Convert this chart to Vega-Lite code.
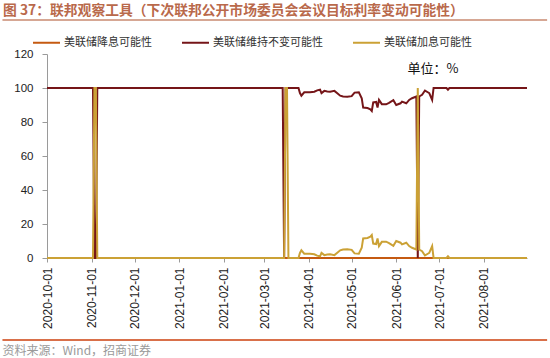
{
  "$schema": "https://vega.github.io/schema/vega-lite/v6.json",
  "width": 480,
  "height": 204,
  "autosize": {"type": "none"},
  "padding": {"left": 47, "top": 54, "right": 23, "bottom": 100},
  "background": "white",
  "title": {
    "text": "图 37：联邦观察工具（下次联邦公开市场委员会会议目标利率变动可能性）",
    "anchor": "start",
    "frame": "group",
    "dx": -44,
    "offset": 3,
    "dy": 2,
    "font": "Noto Sans CJK SC",
    "fontSize": 13.8,
    "fontWeight": "bold",
    "color": "#B9694B"
  },
  "config": {
    "view": {"stroke": null},
    "axis": {
      "domainColor": "#9A9A9A",
      "tickColor": "#9A9A9A",
      "labelColor": "#222222",
      "labelFont": "Liberation Sans",
      "grid": false
    }
  },
  "layer": [
    {
      "data": {
        "values": [
          {"date": "2020-10-01", "美联储降息可能性": 0, "美联储维持不变可能性": 100, "美联储加息可能性": 0},
          {"date": "2020-11-02", "美联储降息可能性": 0, "美联储维持不变可能性": 100, "美联储加息可能性": 0},
          {"date": "2020-11-03", "美联储降息可能性": 0, "美联储维持不变可能性": 0, "美联储加息可能性": 100},
          {"date": "2020-11-04", "美联储降息可能性": 0, "美联储维持不变可能性": 0, "美联储加息可能性": 100},
          {"date": "2020-11-05", "美联储降息可能性": 0, "美联储维持不变可能性": 100, "美联储加息可能性": 0},
          {"date": "2021-03-14", "美联储降息可能性": 0, "美联储维持不变可能性": 100, "美联储加息可能性": 0},
          {"date": "2021-03-15", "美联储降息可能性": 0, "美联储维持不变可能性": 0, "美联储加息可能性": 0},
          {"date": "2021-03-16", "美联储降息可能性": 0, "美联储维持不变可能性": 100, "美联储加息可能性": 100},
          {"date": "2021-03-17", "美联储降息可能性": 0, "美联储维持不变可能性": 100, "美联储加息可能性": 100},
          {"date": "2021-03-18", "美联储降息可能性": 0, "美联储维持不变可能性": 100, "美联储加息可能性": 0},
          {"date": "2021-03-25", "美联储降息可能性": 0, "美联储维持不变可能性": 100, "美联储加息可能性": 0},
          {"date": "2021-03-26", "美联储降息可能性": 0, "美联储维持不变可能性": 97, "美联储加息可能性": 3},
          {"date": "2021-03-27", "美联储降息可能性": 0, "美联储维持不变可能性": 95.5, "美联储加息可能性": 4.5},
          {"date": "2021-03-29", "美联储降息可能性": 0, "美联储维持不变可能性": 97.5, "美联储加息可能性": 2.5},
          {"date": "2021-04-02", "美联储降息可能性": 0, "美联储维持不变可能性": 97.5, "美联储加息可能性": 2.5},
          {"date": "2021-04-05", "美联储降息可能性": 0, "美联储维持不变可能性": 97.8, "美联储加息可能性": 2.2},
          {"date": "2021-04-07", "美联储降息可能性": 0, "美联储维持不变可能性": 98.6, "美联储加息可能性": 1.4},
          {"date": "2021-04-09", "美联储降息可能性": 0, "美联储维持不变可能性": 99, "美联储加息可能性": 1},
          {"date": "2021-04-10", "美联储降息可能性": 0, "美联储维持不变可能性": 97, "美联储加息可能性": 3},
          {"date": "2021-04-12", "美联储降息可能性": 0, "美联储维持不变可能性": 98.3, "美联储加息可能性": 1.7},
          {"date": "2021-04-14", "美联储降息可能性": 0, "美联储维持不变可能性": 98, "美联储加息可能性": 2},
          {"date": "2021-04-16", "美联储降息可能性": 0, "美联储维持不变可能性": 97.8, "美联储加息可能性": 2.2},
          {"date": "2021-04-19", "美联储降息可能性": 0, "美联储维持不变可能性": 98.3, "美联储加息可能性": 1.7},
          {"date": "2021-04-21", "美联储降息可能性": 0, "美联储维持不变可能性": 96.9, "美联储加息可能性": 3.1},
          {"date": "2021-04-23", "美联储降息可能性": 0, "美联储维持不变可能性": 95.5, "美联储加息可能性": 4.5},
          {"date": "2021-04-25", "美联储降息可能性": 0, "美联储维持不变可能性": 95, "美联储加息可能性": 5},
          {"date": "2021-04-28", "美联储降息可能性": 0, "美联储维持不变可能性": 94.8, "美联储加息可能性": 5.2},
          {"date": "2021-05-01", "美联储降息可能性": 0, "美联储维持不变可能性": 95.2, "美联储加息可能性": 4.8},
          {"date": "2021-05-03", "美联储降息可能性": 0, "美联储维持不变可能性": 97.3, "美联储加息可能性": 2.7},
          {"date": "2021-05-06", "美联储降息可能性": 0, "美联储维持不变可能性": 97.5, "美联储加息可能性": 2.5},
          {"date": "2021-05-08", "美联储降息可能性": 0, "美联储维持不变可能性": 94, "美联储加息可能性": 6},
          {"date": "2021-05-09", "美联储降息可能性": 0, "美联储维持不变可能性": 88.5, "美联储加息可能性": 11.5},
          {"date": "2021-05-12", "美联储降息可能性": 0, "美联储维持不变可能性": 88.2, "美联储加息可能性": 11.8},
          {"date": "2021-05-14", "美联储降息可能性": 0, "美联储维持不变可能性": 87.5, "美联储加息可能性": 12.5},
          {"date": "2021-05-15", "美联储降息可能性": 0, "美联储维持不变可能性": 86.5, "美联储加息可能性": 13.5},
          {"date": "2021-05-16", "美联储降息可能性": 0, "美联储维持不变可能性": 91.5, "美联储加息可能性": 8.5},
          {"date": "2021-05-18", "美联储降息可能性": 0, "美联储维持不变可能性": 91.8, "美联储加息可能性": 8.2},
          {"date": "2021-05-19", "美联储降息可能性": 0, "美联储维持不变可能性": 88.5, "美联储加息可能性": 11.5},
          {"date": "2021-05-20", "美联储降息可能性": 0, "美联储维持不变可能性": 93, "美联储加息可能性": 7},
          {"date": "2021-05-22", "美联储降息可能性": 0, "美联储维持不变可能性": 90.5, "美联储加息可能性": 9.5},
          {"date": "2021-05-25", "美联储降息可能性": 0, "美联储维持不变可能性": 90.4, "美联储加息可能性": 9.6},
          {"date": "2021-05-27", "美联储降息可能性": 0, "美联储维持不变可能性": 91.2, "美联储加息可能性": 8.8},
          {"date": "2021-05-30", "美联储降息可能性": 0, "美联储维持不变可能性": 92.8, "美联储加息可能性": 7.2},
          {"date": "2021-06-01", "美联储降息可能性": 0, "美联储维持不变可能性": 90, "美联储加息可能性": 10},
          {"date": "2021-06-04", "美联储降息可能性": 0, "美联储维持不变可能性": 91, "美联储加息可能性": 9},
          {"date": "2021-06-05", "美联储降息可能性": 0, "美联储维持不变可能性": 92, "美联储加息可能性": 8},
          {"date": "2021-06-08", "美联储降息可能性": 0, "美联储维持不变可能性": 91, "美联储加息可能性": 9},
          {"date": "2021-06-10", "美联储降息可能性": 0, "美联储维持不变可能性": 93, "美联储加息可能性": 7},
          {"date": "2021-06-12", "美联储降息可能性": 0, "美联储维持不变可能性": 94, "美联储加息可能性": 6},
          {"date": "2021-06-15", "美联储降息可能性": 0, "美联储维持不变可能性": 95, "美联储加息可能性": 5},
          {"date": "2021-06-16", "美联储降息可能性": 0, "美联储维持不变可能性": 0, "美联储加息可能性": 100},
          {"date": "2021-06-17", "美联储降息可能性": 0, "美联储维持不变可能性": 95, "美联储加息可能性": 5},
          {"date": "2021-06-19", "美联储降息可能性": 0, "美联储维持不变可能性": 96, "美联储加息可能性": 4},
          {"date": "2021-06-21", "美联储降息可能性": 0, "美联储维持不变可能性": 98.5, "美联储加息可能性": 1.5},
          {"date": "2021-06-23", "美联储降息可能性": 0, "美联储维持不变可能性": 97.5, "美联储加息可能性": 2.5},
          {"date": "2021-06-24", "美联储降息可能性": 0, "美联储维持不变可能性": 97, "美联储加息可能性": 3},
          {"date": "2021-06-26", "美联储降息可能性": 0, "美联储维持不变可能性": 93, "美联储加息可能性": 7},
          {"date": "2021-06-27", "美联储降息可能性": 0, "美联储维持不变可能性": 100, "美联储加息可能性": 0},
          {"date": "2021-07-06", "美联储降息可能性": 0, "美联储维持不变可能性": 100, "美联储加息可能性": 0},
          {"date": "2021-07-07", "美联储降息可能性": 0, "美联储维持不变可能性": 99, "美联储加息可能性": 1},
          {"date": "2021-07-08", "美联储降息可能性": 0, "美联储维持不变可能性": 100, "美联储加息可能性": 0},
          {"date": "2021-08-31", "美联储降息可能性": 0, "美联储维持不变可能性": 100, "美联储加息可能性": 0}
        ]
      },
      "transform": [
        {"fold": ["美联储降息可能性", "美联储维持不变可能性", "美联储加息可能性"], "as": ["series", "value"]}
      ],
      "encoding": {
        "x": {
          "field": "date",
          "type": "temporal",
          "scale": {
            "type": "utc",
            "nice": false,
            "domain": [
              {"year": 2020, "month": 10, "date": 1, "utc": true},
              {"year": 2021, "month": 8, "date": 31, "utc": true}
            ]
          },
          "axis": {
            "labelExpr": "utcFormat(datum.value, '%Y-%m-%d')",
            "tickCount": {"interval": "month", "step": 1},
            "labelAngle": -90,
            "labelAlign": "right",
            "labelBaseline": "middle",
            "labelFontSize": 12,
            "labelPadding": 5,
            "tickSize": 4,
            "labelOverlap": false,
            "labelFlush": false,
            "labelBound": false,
            "title": "资料来源：Wind，招商证券",
            "titleFont": "Noto Sans CJK SC",
            "titleFontSize": 12,
            "titleFontWeight": "normal",
            "titleColor": "#9A9A9A",
            "titleAnchor": "start",
            "titleAlign": "left",
            "titleBaseline": "middle",
            "titleX": -45,
            "titleY": 92
          }
        },
        "y": {
          "field": "value",
          "type": "quantitative",
          "scale": {"domain": [0, 120], "nice": false},
          "axis": {
            "values": [0, 20, 40, 60, 80, 100, 120],
            "labelFontSize": 11.5,
            "labelPadding": 9,
            "tickSize": 5,
            "title": "单位：%",
            "titleFont": "Noto Sans CJK SC",
            "titleFontSize": 13,
            "titleFontWeight": "normal",
            "titleColor": "#111111",
            "titleAngle": 0,
            "titleAlign": "left",
            "titleBaseline": "middle",
            "titleX": 360,
            "titleY": 14
          }
        },
        "color": {
          "field": "series",
          "type": "nominal",
          "scale": {
            "domain": ["美联储降息可能性", "美联储维持不变可能性", "美联储加息可能性"],
            "range": ["#C55A11", "#751518", "#CBA135"]
          },
          "legend": {
            "title": null,
            "orient": "none",
            "legendX": -15,
            "legendY": -26,
            "direction": "horizontal",
            "padding": 0,
            "symbolType": "stroke",
            "symbolSize": 729,
            "symbolStrokeWidth": 2,
            "labelFont": "Noto Sans CJK SC",
            "labelFontSize": 11,
            "labelColor": "#333333",
            "labelOffset": 3,
            "columnPadding": 26
          }
        }
      },
      "layer": [
        {"transform": [{"filter": "datum.series === '美联储降息可能性'"}], "mark": {"type": "line", "strokeWidth": 2}},
        {"transform": [{"filter": "datum.series === '美联储维持不变可能性'"}], "mark": {"type": "line", "strokeWidth": 2}},
        {"transform": [{"filter": "datum.series === '美联储加息可能性'"}], "mark": {"type": "line", "strokeWidth": 2}}
      ]
    },
    {
      "data": {"values": [{}]},
      "mark": {"type": "rule", "color": "#C98A70", "strokeWidth": 1.5},
      "encoding": {
        "x": {
          "datum": {"year": 2020, "month": 8, "date": 31, "utc": true},
          "type": "temporal",
          "scale": {
            "type": "utc",
            "nice": false,
            "domain": [
              {"year": 2020, "month": 10, "date": 1, "utc": true},
              {"year": 2021, "month": 8, "date": 31, "utc": true}
            ]
          },
          "axis": {
            "labelExpr": "utcFormat(datum.value, '%Y-%m-%d')",
            "tickCount": {"interval": "month", "step": 1},
            "labelAngle": -90,
            "labelAlign": "right",
            "labelBaseline": "middle",
            "labelFontSize": 12,
            "labelPadding": 5,
            "tickSize": 4,
            "labelOverlap": false,
            "labelFlush": false,
            "labelBound": false,
            "title": "资料来源：Wind，招商证券",
            "titleFont": "Noto Sans CJK SC",
            "titleFontSize": 12,
            "titleFontWeight": "normal",
            "titleColor": "#9A9A9A",
            "titleAnchor": "start",
            "titleAlign": "left",
            "titleBaseline": "middle",
            "titleX": -45,
            "titleY": 92
          }
        },
        "x2": {"datum": {"year": 2021, "month": 9, "date": 14, "utc": true}},
        "y": {
          "datum": 140,
          "type": "quantitative",
          "scale": {"domain": [0, 120], "nice": false},
          "axis": {
            "values": [0, 20, 40, 60, 80, 100, 120],
            "labelFontSize": 11.5,
            "labelPadding": 9,
            "tickSize": 5,
            "title": "单位：%",
            "titleFont": "Noto Sans CJK SC",
            "titleFontSize": 13,
            "titleFontWeight": "normal",
            "titleColor": "#111111",
            "titleAngle": 0,
            "titleAlign": "left",
            "titleBaseline": "middle",
            "titleX": 360,
            "titleY": 14
          }
        }
      }
    },
    {
      "data": {"values": [{}]},
      "mark": {"type": "rule", "color": "#D9704A", "strokeWidth": 2},
      "encoding": {
        "x": {
          "datum": {"year": 2020, "month": 8, "date": 31, "utc": true},
          "type": "temporal",
          "scale": {
            "type": "utc",
            "nice": false,
            "domain": [
              {"year": 2020, "month": 10, "date": 1, "utc": true},
              {"year": 2021, "month": 8, "date": 31, "utc": true}
            ]
          },
          "axis": {
            "labelExpr": "utcFormat(datum.value, '%Y-%m-%d')",
            "tickCount": {"interval": "month", "step": 1},
            "labelAngle": -90,
            "labelAlign": "right",
            "labelBaseline": "middle",
            "labelFontSize": 12,
            "labelPadding": 5,
            "tickSize": 4,
            "labelOverlap": false,
            "labelFlush": false,
            "labelBound": false,
            "title": "资料来源：Wind，招商证券",
            "titleFont": "Noto Sans CJK SC",
            "titleFontSize": 12,
            "titleFontWeight": "normal",
            "titleColor": "#9A9A9A",
            "titleAnchor": "start",
            "titleAlign": "left",
            "titleBaseline": "middle",
            "titleX": -45,
            "titleY": 92
          }
        },
        "x2": {"datum": {"year": 2021, "month": 9, "date": 14, "utc": true}},
        "y": {
          "datum": -48.2,
          "type": "quantitative",
          "scale": {"domain": [0, 120], "nice": false},
          "axis": {
            "values": [0, 20, 40, 60, 80, 100, 120],
            "labelFontSize": 11.5,
            "labelPadding": 9,
            "tickSize": 5,
            "title": "单位：%",
            "titleFont": "Noto Sans CJK SC",
            "titleFontSize": 13,
            "titleFontWeight": "normal",
            "titleColor": "#111111",
            "titleAngle": 0,
            "titleAlign": "left",
            "titleBaseline": "middle",
            "titleX": 360,
            "titleY": 14
          }
        }
      }
    }
  ]
}
